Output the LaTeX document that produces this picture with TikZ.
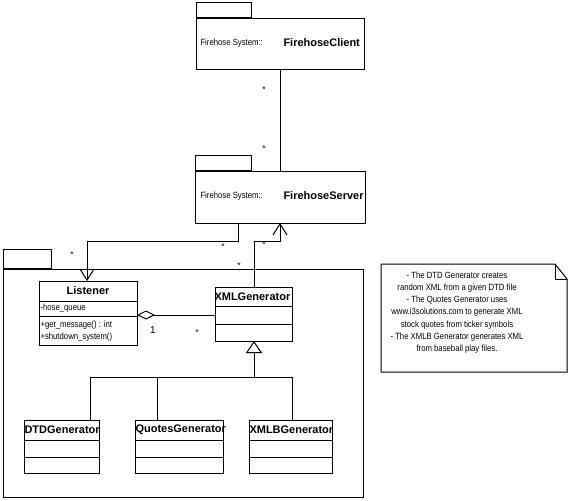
\documentclass[tikz,border=0pt]{standalone}
\usepackage{fontspec}
\setmainfont{Liberation Sans}
\newfontfamily\narrowfont[FakeStretch=0.86]{Liberation Sans}
\usetikzlibrary{arrows.meta}
\begin{document}
\begin{tikzpicture}[x=1pt,y=-1pt,line width=1pt,
  small/.style={font=\narrowfont\fontsize{9}{10}\selectfont,inner sep=0pt},
  big/.style={font=\fontsize{11}{13}\selectfont\bfseries,inner sep=0pt},
  mult/.style={font=\fontsize{8.5}{9}\selectfont,inner sep=0pt},
  box/.style={draw,inner sep=0pt,anchor=north west},
  openarrow/.style={-{Straight Barb[length=11pt,width=14pt,line width=1pt]}},
  inherit/.style={-{Triangle[open,length=12pt,width=16pt,fill=white,line width=1pt]}},
  agg/.style={{Diamond[open,length=18pt,width=9pt,fill=white,line width=1pt]}-}]
\useasboundingbox (0,0) rectangle (569,500);
\fill[white] (0,0) rectangle (569,500);

% FirehoseClient package
\node[box,minimum width=168pt,minimum height=51pt] (client) at (196,18) {};
\node[box,anchor=south west,minimum width=55pt,minimum height=15pt] (clienttab) at (client.north west) {};
\node[small,anchor=west] (clientns) at (200,43) {Firehose System::};
\node[big,anchor=west] (clientname) at (283,43) {FirehoseClient};

% FirehoseServer package
\node[box,minimum width=170pt,minimum height=52pt] (server) at (195,171) {};
\node[box,anchor=south west,minimum width=56pt,minimum height=15pt] (servertab) at (server.north west) {};
\node[small,anchor=west] (serverns) at (200,196) {Firehose System::};
\node[big,anchor=west] (servername) at (283,196) {FirehoseServer};

% Big package
\node[box,minimum width=360pt,minimum height=228pt] (pkg) at (3,269) {};
\node[box,anchor=south west,minimum width=48pt,minimum height=19pt] (pkgtab) at (pkg.north west) {};

% Listener
\node[box,minimum width=98pt,minimum height=64pt] (listener) at (39,281) {};
\draw (39,301) -- (137,301);
\draw (39,316) -- (137,316);
\node[big,anchor=center] (listenername) at (88,291) {Listener};
\node[small,anchor=west] (attr) at (40,308.5) {-hose\_queue};
\node[small,anchor=west] (op1) at (40,325) {+get\_message() : int};
\node[small,anchor=west] (op2) at (40,337) {+shutdown\_system()};

% XMLGenerator
\node[box,minimum width=77pt,minimum height=54pt] (xmlgen) at (215,287) {};
\draw (215,306) -- (292,306);
\draw (215,324) -- (292,324);
\node[big,anchor=west] (xmlgenname) at (214,297) {XMLGenerator};

% Subclasses
\node[box,minimum width=75pt,minimum height=53pt] (dtd) at (24,420) {};
\draw (24,440) -- (99,440);
\draw (24,457) -- (99,457);
\node[big,anchor=west] (dtdname) at (24,430) {DTDGenerator};

\node[box,minimum width=88pt,minimum height=53pt] (quotes) at (135,420) {};
\draw (135,440) -- (223,440);
\draw (135,457) -- (223,457);
\node[big,anchor=west] (quotesname) at (135,430) {QuotesGenerator};

\node[box,minimum width=83pt,minimum height=53pt] (xmlb) at (249,420) {};
\draw (249,440) -- (332,440);
\draw (249,457) -- (332,457);
\node[big,anchor=west] (xmlbname) at (249,430) {XMLBGenerator};

% Note
\draw (381,264) coordinate (n1) -- (555,264) coordinate (n2) -- (567,279) coordinate (n3)
  -- (567,372) -- (381,372) -- cycle;
\draw (n2) -- (555,279) -- (n3);
\node[small,align=center,font=\narrowfont\fontsize{9}{12.2}\selectfont] (notetext) at (457,312.5) {%
- The DTD Generator creates\\
random XML from a given DTD file\\
- The Quotes Generator uses\\
www.i3solutions.com to generate XML\\
stock quotes from ticker symbols\\
- The XMLB Generator generates XML\\
from baseball play files.};

% Connectors
\coordinate (c1) at (280,69);
\coordinate (c2) at (280,171);
\draw (c1) -- (c2);

\coordinate (sl) at (238,223);
\coordinate (ll) at (87,281);
\draw[openarrow] (sl) |- (87,241) -- (ll);

\coordinate (xt) at (254,287);
\coordinate (sr) at (280,223);
\draw[openarrow] (xt) |- (280,241) -- (sr);

\coordinate (la) at (137,315);
\coordinate (xa) at (215,315);
\draw[agg] (la) -- (xa);

\coordinate (jn) at (254,377);
\coordinate (xb) at (254,341);
\draw[inherit] (jn) -- (xb);
\draw (90,420) |- (292,377) -- (292,420);
\draw (157,377) -- (157,420);

% Multiplicities
\node[mult] (m1) at (264,90) {*};
\node[mult] (m2) at (264,149) {*};
\node[mult] (m3) at (223,247) {*};
\node[mult] (m4) at (264,245) {*};
\node[mult] (m5) at (72,255) {*};
\node[mult] (m6) at (239,266) {*};
\node[mult,font=\fontsize{10}{11}\selectfont] (m7) at (153,330) {1};
\node[mult] (m8) at (197,333) {*};
\end{tikzpicture}
\end{document}
